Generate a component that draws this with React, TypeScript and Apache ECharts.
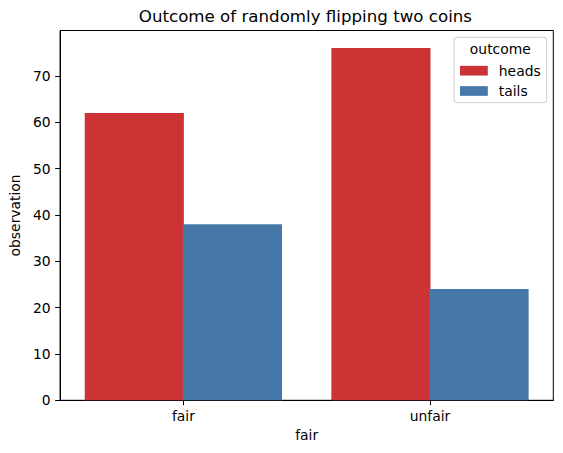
import React, { useEffect, useRef } from "react";
import * as echarts from "echarts";

const categories = ["fair", "unfair"];
const seriesNames = ["heads", "tails"];
const headsValues = [62, 76];
const tailsValues = [38, 24];
const yTicks = [0, 10, 20, 30, 40, 50, 60, 70];
const colors = ["#cd3335", "#4679a9"];
const titleText = "Outcome of randomly flipping two coins";
const legendTitle = "outcome";

const FONT = "DejaVu Sans";

export default function App() {
  const ref = useRef<HTMLDivElement>(null);
  useEffect(() => {
    if (!ref.current) return;
    const chart = echarts.init(ref.current, undefined, { renderer: "svg" });
    const gridLeft = 57.5;
    const gridTop = 30.5;
    const gridW = 495.8;
    const gridH = 369.8;
    chart.setOption({
      animation: false,
      backgroundColor: "#fff",
      grid: {
        left: gridLeft,
        top: gridTop,
        width: gridW,
        height: gridH,
        show: true,
        borderColor: "#000",
        borderWidth: 1,
        backgroundColor: "transparent",
      },
      legend: {
        orient: "vertical",
        left: 460,
        top: 63.7,
        padding: 0,
        itemWidth: 27.8,
        itemHeight: 9.7,
        itemGap: 6.3,
        icon: "rect",
        data: seriesNames,
        textStyle: {
          fontFamily: FONT,
          fontSize: 13.89,
          lineHeight: 14,
          color: "#000",
          padding: [0, 0, 0, 6],
        },
      },
      graphic: [
        {
          type: "text",
          x: gridLeft + gridW / 2,
          y: 16.5,
          style: {
            text: titleText,
            fontFamily: FONT,
            fontSize: 16.67,
            fill: "#000",
            textAlign: "center",
            textVerticalAlign: "middle",
          },
        },
        {
          type: "rect",
          shape: { x: 454, y: 37.3, width: 92.7, height: 65.4, r: 3 },
          style: { fill: "rgba(255,255,255,0.8)", stroke: "#cccccc", lineWidth: 1 },
          z: 0,
          silent: true,
        },
        {
          type: "text",
          x: 500.3,
          y: 49,
          style: {
            text: legendTitle,
            fontFamily: FONT,
            fontSize: 13.89,
            fill: "#000",
            textAlign: "center",
            textVerticalAlign: "middle",
          },
          z: 1,
        },
      ],
      xAxis: {
        type: "category",
        data: categories,
        name: "fair",
        nameLocation: "middle",
        nameGap: 24.5,
        nameTextStyle: { fontFamily: FONT, fontSize: 13.89, color: "#000" },
        axisLine: { show: true, lineStyle: { color: "#000", width: 1 } },
        axisTick: { show: true, alignWithLabel: true, length: 4.9, lineStyle: { color: "#000", width: 1 } },
        axisLabel: { fontFamily: FONT, fontSize: 13.89, color: "#000", margin: 9 },
        splitLine: { show: false },
      },
      yAxis: {
        type: "value",
        min: 0,
        max: 79.8,
        interval: 10,
        name: "observation",
        nameLocation: "middle",
        nameGap: 33,
        nameTextStyle: { fontFamily: FONT, fontSize: 13.89, color: "#000" },
        axisLine: { show: true, lineStyle: { color: "#000", width: 1 } },
        axisTick: { show: true, length: 4.9, lineStyle: { color: "#000", width: 1 }, customValues: yTicks },
        axisLabel: { fontFamily: FONT, fontSize: 13.89, color: "#000", margin: 9.5, customValues: yTicks },
        splitLine: { show: false },
      },
      series: [
        {
          name: seriesNames[0],
          type: "bar",
          data: headsValues,
          itemStyle: { color: colors[0] },
          barGap: "-1%",
          barCategoryGap: "20%",
        },
        {
          name: seriesNames[1],
          type: "bar",
          data: tailsValues,
          itemStyle: { color: colors[1] },
          barGap: "-1%",
          barCategoryGap: "20%",
        },
      ],
    });
    return () => chart.dispose();
  }, []);
  return <div ref={ref} style={{ width: 563, height: 453, position: "absolute", left: 0, top: 0 }} />;
}
